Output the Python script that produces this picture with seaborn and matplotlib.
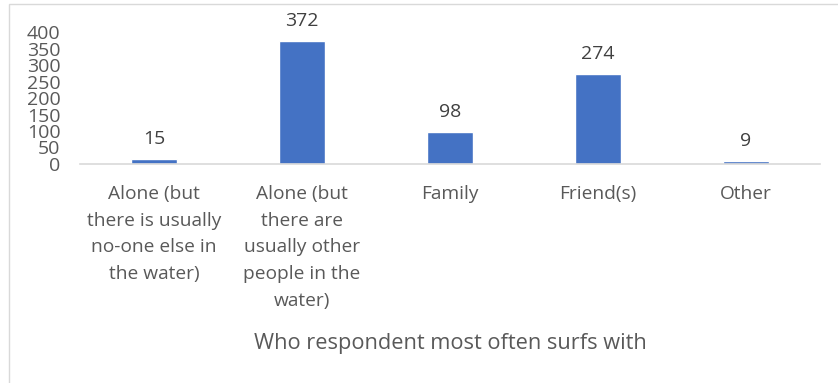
import matplotlib
matplotlib.use("Agg")
import matplotlib.pyplot as plt
import seaborn as sns
import pandas as pd
from matplotlib.patches import Rectangle

categories = [
    "Alone (but\nthere is usually\nno-one else in\nthe water)",
    "Alone (but\nthere are\nusually other\npeople in the\nwater)",
    "Family",
    "Friend(s)",
    "Other",
]
counts = [15, 372, 98, 274, 9]
y_ticks = [0, 50, 100, 150, 200, 250, 300, 350, 400]
x_title = "Who respondent most often surfs with"

sns.set_style("white")
plt.rcParams["font.family"] = ["Open Sans", "DejaVu Sans"]

text_color = "#595959"
bar_color = "#4472C4"

df = pd.DataFrame({"cat": categories, "n": counts})

fig = plt.figure(figsize=(8.38, 3.83), dpi=100)
ax = fig.add_axes([0.0955, 0.572, 0.883, 0.344])

sns.barplot(data=df, x="cat", y="n", color=bar_color, width=0.31,
            saturation=1, ax=ax)

ax.set_ylim(0, 400)
ax.set_yticks(y_ticks)
ax.set_yticklabels([str(t) for t in y_ticks], fontsize=14, color=text_color)
ax.tick_params(axis="y", length=0, pad=14)
ax.tick_params(axis="x", length=0, pad=15)
for lbl in ax.get_xticklabels():
    lbl.set_fontsize(13.8)
    lbl.set_color(text_color)
    lbl.set_linespacing(1.63)
    lbl.set_verticalalignment("top")

for s in ["top", "right", "left"]:
    ax.spines[s].set_visible(False)
ax.spines["bottom"].set_color("#d9d9d9")
ax.spines["bottom"].set_linewidth(1.2)

for i, v in enumerate(counts):
    ax.annotate(str(v), (i, v), xytext=(0, 8), textcoords="offset points",
                ha="center", va="bottom", fontsize=14, color="#404040")

ax.set_xlabel(x_title, fontsize=15.7, color=text_color)
ax.set_ylabel("")
ax.xaxis.set_label_coords(0.5, -1.28)

# chart frame
fig.patches.append(Rectangle((9 / 838, -0.01), 1.0, 1 - 4 / 383 + 0.01,
                             transform=fig.transFigure, fill=False,
                             edgecolor="#d9d9d9", linewidth=1.0))

fig.savefig("out.png", dpi=100)
